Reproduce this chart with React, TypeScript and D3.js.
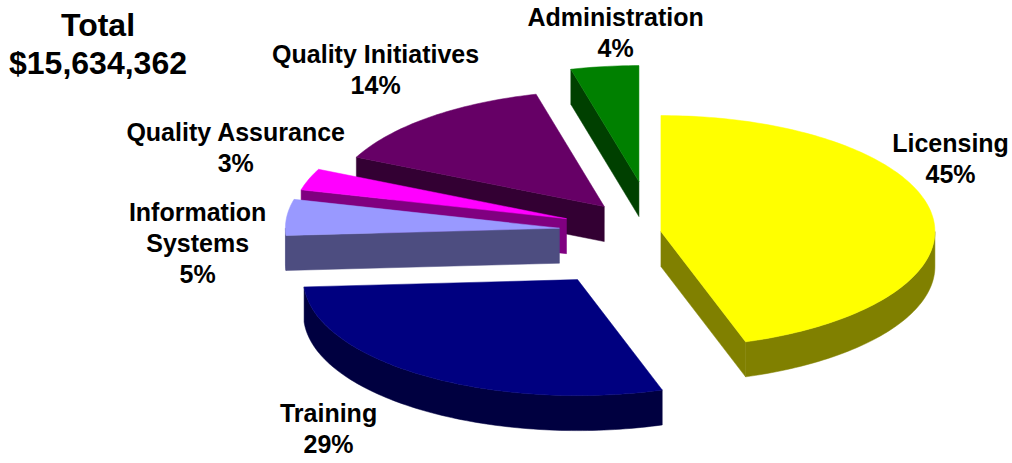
import * as d3 from 'd3'

const categories = ['Licensing', 'Training', 'Information Systems', 'Quality Assurance', 'Quality Initiatives', 'Administration']
const percents = [45, 29, 5, 3, 14, 4]
const labelLines = [['Licensing'], ['Training'], ['Information', 'Systems'], ['Quality Assurance'], ['Quality Initiatives'], ['Administration']]
const totalTitle = 'Total'
const totalAmount = '$15,634,362'

const topColors = ['#ffff00', '#000080', '#9999ff', '#ff00ff', '#660066', '#008000']
const sideColors = ['#808000', '#000040', '#4d4d80', '#800080', '#330033', '#004000']

// layout
const W = 1012
const H = 463
const cx = 654
const cy = 232
const rx = 274
const ry = 116
const depth = 35
// explosion distance per slice, measured in the pie plane (x units)
const explode = [7, 136, 95, 93, 78, 120]
// label nudge from the slice's outer mid point to the first text baseline
const labelNudge: [number, number][] = [[19, -61], [-95, 46], [-89, 4], [-73, -38], [-54, -54], [11, -41]]
const lineGap = 31
const font = '"Liberation Sans", Arial, sans-serif'

export default function App() {
  const pie = d3.pie<number>().sort(null).value(d => d)
  const arcs = pie(percents)
  const k = ry / rx

  const slices = arcs.map((a, i) => {
    const mid = (a.startAngle + a.endAngle) / 2
    const scx = cx + explode[i] * Math.sin(mid)
    const scy = cy - explode[i] * Math.cos(mid) * k
    const pt = (ang: number, h = 0): [number, number] => [scx + rx * Math.sin(ang), scy - ry * Math.cos(ang) + h]
    const n = Math.max(8, Math.ceil((a.endAngle - a.startAngle) / 0.02))
    const angs = d3.range(n + 1).map(j => a.startAngle + (a.endAngle - a.startAngle) * j / n)
    const line = d3.line()
    const top = line([[scx, scy], ...angs.map(t => pt(t))])! + 'Z'

    const faces: { d: string; key: string }[] = []
    // start wall
    if (Math.sin(a.startAngle) < -1e-3) {
      const p = pt(a.startAngle)
      faces.push({ key: 'ws', d: line([[scx, scy], p, [p[0], p[1] + depth], [scx, scy + depth]])! + 'Z' })
    }
    // end wall
    if (Math.sin(a.endAngle) > 1e-3) {
      const p = pt(a.endAngle)
      faces.push({ key: 'we', d: line([[scx, scy], p, [p[0], p[1] + depth], [scx, scy + depth]])! + 'Z' })
    }
    // outer curved side (front half only)
    const s0 = Math.max(a.startAngle, Math.PI / 2)
    const s1 = Math.min(a.endAngle, Math.PI * 1.5)
    if (s1 > s0) {
      const m = Math.max(4, Math.ceil((s1 - s0) / 0.02))
      const sa = d3.range(m + 1).map(j => s0 + (s1 - s0) * j / m)
      const upper = sa.map(t => pt(t))
      const lower = sa.slice().reverse().map(t => pt(t, depth))
      faces.push({ key: 'os', d: line([...upper, ...lower])! + 'Z' })
    }

    const outer = pt(mid)
    const lx = outer[0] + labelNudge[i][0]
    const ly = outer[1] + labelNudge[i][1]
    return { i, scy, top, faces, lx, ly }
  })

  const order = slices.slice().sort((a, b) => a.scy - b.scy)

  return (
    <svg width={W} height={H} style={{ position: 'absolute', left: 0, top: 0, background: '#fff' }}>
      {order.map(s => (
        <g key={categories[s.i]}>
          {s.faces.map(f => (
            <path key={f.key} d={f.d} fill={sideColors[s.i]} stroke={sideColors[s.i]} strokeWidth={0.5} strokeLinejoin="round" />
          ))}
          <path d={s.top} fill={topColors[s.i]} stroke={topColors[s.i]} strokeWidth={0.5} strokeLinejoin="round" />
        </g>
      ))}
      {slices.map(s => {
        const lines = [...labelLines[s.i], `${percents[s.i]}%`]
        return (
          <text key={'l' + s.i} x={s.lx} y={s.ly} textAnchor="middle" fontFamily={font} fontWeight="bold" fontSize={25} fill="#000">
            {lines.map((t, j) => (
              <tspan key={j} x={s.lx} y={s.ly + j * lineGap}>{t}</tspan>
            ))}
          </text>
        )
      })}
      <text textAnchor="middle" fontFamily={font} fontWeight="bold" fontSize={32} fill="#000">
        <tspan x={98} y={36}>{totalTitle}</tspan>
        <tspan x={98} y={74}>{totalAmount}</tspan>
      </text>
    </svg>
  )
}
